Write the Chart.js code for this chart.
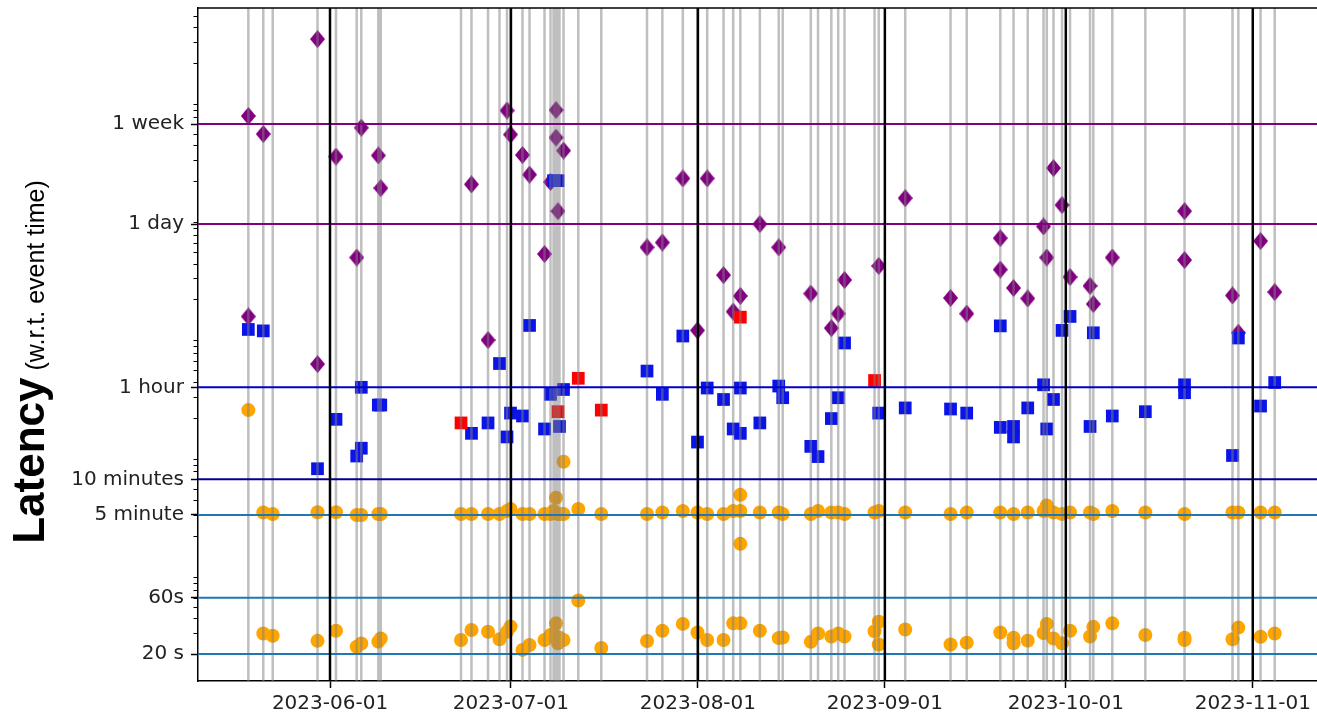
<!DOCTYPE html>
<html><head><meta charset="utf-8">
<script src="https://cdn.jsdelivr.net/npm/chart.js@4/dist/chart.umd.min.js"></script>
<style>html,body{margin:0;padding:0;background:#fff;} #wrap{position:relative;width:1317px;height:713px;background:#fff;}</style>
</head><body><div id="wrap"><canvas id="c" width="1317" height="713"></canvas></div>
<script>
// ---------- data (latency in seconds, event time UTC) ----------
const eventTimes = [
 '2023-05-18 11:00','2023-05-20 22:30','2023-05-22 12:00','2023-05-29 22:15','2023-06-01 23:50',
 '2023-06-05 10:15','2023-06-06 04:30','2023-06-09 00:15','2023-06-09 10:00','2023-06-22 17:20',
 '2023-06-24 11:00','2023-06-27 04:50','2023-06-29 02:30','2023-06-30 08:20','2023-06-30 22:20',
 '2023-07-02 22:00','2023-07-04 02:00','2023-07-06 13:40','2023-07-07 13:30','2023-07-08 01:30',
 '2023-07-08 11:20','2023-07-08 19:15','2023-07-09 01:10','2023-07-09 17:15','2023-07-12 04:00',
 '2023-07-15 23:30','2023-07-23 13:30','2023-07-26 02:30','2023-07-29 12:00','2023-07-31 22:20',
 '2023-08-02 13:00','2023-08-05 06:00','2023-08-06 20:25','2023-08-08 00:45','2023-08-11 06:30',
 '2023-08-14 09:40','2023-08-15 01:30','2023-08-19 17:15','2023-08-20 22:00','2023-08-23 03:00',
 '2023-08-24 06:15','2023-08-25 07:30','2023-08-30 07:00','2023-08-30 23:35','2023-09-04 09:00',
 '2023-09-11 21:20','2023-09-14 13:40','2023-09-20 03:20','2023-09-22 08:00','2023-09-24 16:30',
 '2023-09-27 07:25','2023-09-27 20:10','2023-09-28 23:00','2023-09-30 09:00','2023-10-01 16:50',
 '2023-10-05 00:30','2023-10-05 13:30','2023-10-08 17:00','2023-10-14 04:30','2023-10-20 16:30',
 '2023-10-28 15:20','2023-10-29 14:40','2023-11-02 07:00','2023-11-04 15:20'
];
const diamonds = [
 ['2023-05-18 11:00',708000],['2023-05-18 11:00',14300],['2023-05-20 22:30',498000],
 ['2023-05-29 22:15',3160000],['2023-05-29 22:15',5660],['2023-06-01 23:50',321000],
 ['2023-06-05 10:15',45000],['2023-06-06 04:30',563000],['2023-06-09 00:15',328000],
 ['2023-06-09 10:00',174000],['2023-06-24 11:00',187000],['2023-06-27 04:50',9040],
 ['2023-06-30 08:20',787000],['2023-06-30 22:20',493000],['2023-07-02 22:00',331000],
 ['2023-07-04 02:00',226000],['2023-07-06 13:40',48200],['2023-07-07 13:30',196000],
 ['2023-07-08 11:20',795000],['2023-07-08 11:20',465000],['2023-07-08 19:15',111000],
 ['2023-07-09 17:15',361000],['2023-07-23 13:30',54900],['2023-07-26 02:30',60300],
 ['2023-07-29 12:00',210000],['2023-07-31 22:20',10900],['2023-08-02 13:00',210000],
 ['2023-08-05 06:00',32000],['2023-08-06 20:25',15700],['2023-08-08 00:45',21300],
 ['2023-08-11 06:30',86400],['2023-08-14 09:40',54900],['2023-08-19 17:15',22300],
 ['2023-08-23 03:00',11400],['2023-08-24 06:15',15100],['2023-08-25 07:30',29100],
 ['2023-08-30 23:35',38200],['2023-09-04 09:00',143000],['2023-09-11 21:20',20500],
 ['2023-09-14 13:40',15100],['2023-09-20 03:20',65600],['2023-09-20 03:20',35600],
 ['2023-09-22 08:00',24900],['2023-09-24 16:30',20300],['2023-09-27 07:25',82400],
 ['2023-09-27 20:10',45000],['2023-09-28 23:00',257000],['2023-09-30 09:00',125000],
 ['2023-10-01 16:50',30800],['2023-10-05 00:30',25900],['2023-10-05 13:30',18200],
 ['2023-10-08 17:00',45000],['2023-10-20 16:30',111000],['2023-10-20 16:30',42900],
 ['2023-10-28 15:20',21500],['2023-10-29 14:40',10400],['2023-11-02 07:00',62100],
 ['2023-11-04 15:20',23000]
];
const blueSquares = [
 ['2023-05-18 11:00',11100],['2023-05-20 22:30',10800],['2023-05-29 22:15',738],
 ['2023-06-01 23:50',1930],['2023-06-05 10:15',945],['2023-06-06 04:30',3600],
 ['2023-06-06 04:30',1100],['2023-06-09 00:15',2550],['2023-06-09 10:00',2550],
 ['2023-06-24 11:00',1470],['2023-06-27 04:50',1800],['2023-06-29 02:30',5720],
 ['2023-06-30 08:20',1370],['2023-06-30 22:20',2180],['2023-07-02 22:00',2060],
 ['2023-07-04 02:00',12000],['2023-07-06 13:40',1600],['2023-07-07 13:30',3140],
 ['2023-07-08 01:30',201000],['2023-07-08 19:15',201000],['2023-07-09 01:10',1680],
 ['2023-07-09 17:15',3450],['2023-07-23 13:30',4940],['2023-07-26 02:30',3140],
 ['2023-07-29 12:00',9770],['2023-07-31 22:20',1240],['2023-08-02 13:00',3550],
 ['2023-08-05 06:00',2840],['2023-08-06 20:25',1600],['2023-08-08 00:45',1470],
 ['2023-08-08 00:45',3550],['2023-08-11 06:30',1800],['2023-08-14 09:40',3690],
 ['2023-08-15 01:30',2940],['2023-08-19 17:15',1140],['2023-08-20 22:00',935],
 ['2023-08-23 03:00',1960],['2023-08-24 06:15',2940],['2023-08-25 07:30',8530],
 ['2023-08-30 23:35',2180],['2023-09-04 09:00',2410],['2023-09-11 21:20',2360],
 ['2023-09-14 13:40',2180],['2023-09-20 03:20',11900],['2023-09-20 03:20',1650],
 ['2023-09-22 08:00',1680],['2023-09-22 08:00',1370],['2023-09-24 16:30',2410],
 ['2023-09-27 07:25',3780],['2023-09-27 20:10',1600],['2023-09-28 23:00',2840],
 ['2023-09-30 09:00',10900],['2023-10-01 16:50',14300],['2023-10-05 00:30',1680],
 ['2023-10-05 13:30',10400],['2023-10-08 17:00',2060],['2023-10-14 04:30',2240],
 ['2023-10-20 16:30',3780],['2023-10-20 16:30',3240],['2023-10-28 15:20',955],
 ['2023-10-29 14:40',9400],['2023-11-02 07:00',2500],['2023-11-04 15:20',3950]
];
const redSquares = [
 ['2023-06-22 17:20',1800],['2023-07-08 19:15',2240],['2023-07-12 04:00',4290],
 ['2023-07-15 23:30',2310],['2023-08-08 00:45',14100],['2023-08-30 07:00',4110]
];
const orangeCircles = [
 ['2023-05-18 11:00',2310],
 ['2023-05-20 22:30',315],['2023-05-20 22:30',29.9],['2023-05-22 12:00',306],['2023-05-22 12:00',28.6],
 ['2023-05-29 22:15',316],['2023-05-29 22:15',25.9],['2023-06-01 23:50',316],['2023-06-01 23:50',31.5],
 ['2023-06-05 10:15',300],['2023-06-05 10:15',23.1],['2023-06-06 04:30',300],['2023-06-06 04:30',24.6],
 ['2023-06-09 00:15',306],['2023-06-09 00:15',25.5],['2023-06-09 10:00',306],['2023-06-09 10:00',27.1],
 ['2023-06-22 17:20',306],['2023-06-22 17:20',26.3],['2023-06-24 11:00',306],['2023-06-24 11:00',32.0],
 ['2023-06-27 04:50',306],['2023-06-27 04:50',30.9],['2023-06-29 02:30',306],['2023-06-29 02:30',26.7],
 ['2023-06-30 08:20',324],['2023-06-30 08:20',30.9],['2023-06-30 22:20',337],['2023-06-30 22:20',34.2],
 ['2023-07-02 22:00',306],['2023-07-02 22:00',21.7],['2023-07-04 02:00',306],['2023-07-04 02:00',23.9],
 ['2023-07-06 13:40',306],['2023-07-06 13:40',26.3],['2023-07-07 13:30',306],['2023-07-07 13:30',29.0],
 ['2023-07-08 01:30',324],['2023-07-08 01:30',29.5],['2023-07-08 11:20',420],['2023-07-08 11:20',36.4],
 ['2023-07-08 19:15',306],['2023-07-08 19:15',24.7],['2023-07-09 01:10',306],['2023-07-09 01:10',27.5],
 ['2023-07-09 17:15',846],['2023-07-09 17:15',306],['2023-07-09 17:15',26.3],
 ['2023-07-12 04:00',337],['2023-07-12 04:00',56.8],['2023-07-15 23:30',306],['2023-07-15 23:30',22.5],
 ['2023-07-23 13:30',306],['2023-07-23 13:30',25.8],['2023-07-26 02:30',315],['2023-07-26 02:30',31.5],
 ['2023-07-29 12:00',324],['2023-07-29 12:00',36.0],['2023-07-31 22:20',315],['2023-07-31 22:20',30.5],
 ['2023-08-02 13:00',306],['2023-08-02 13:00',26.3],['2023-08-05 06:00',306],['2023-08-05 06:00',26.3],
 ['2023-08-06 20:25',324],['2023-08-06 20:25',36.4],
 ['2023-08-08 00:45',444],['2023-08-08 00:45',324],['2023-08-08 00:45',171],['2023-08-08 00:45',36.4],
 ['2023-08-11 06:30',315],['2023-08-11 06:30',31.5],['2023-08-14 09:40',315],['2023-08-14 09:40',27.3],
 ['2023-08-15 01:30',306],['2023-08-15 01:30',27.6],['2023-08-19 17:15',306],['2023-08-19 17:15',25.4],
 ['2023-08-20 22:00',324],['2023-08-20 22:00',29.9],['2023-08-23 03:00',315],['2023-08-23 03:00',28.2],
 ['2023-08-24 06:15',315],['2023-08-24 06:15',29.9],['2023-08-25 07:30',306],['2023-08-25 07:30',28.2],
 ['2023-08-30 07:00',315],['2023-08-30 07:00',31.2],
 ['2023-08-30 23:35',324],['2023-08-30 23:35',37.6],['2023-08-30 23:35',24.1],
 ['2023-09-04 09:00',315],['2023-09-04 09:00',32.3],['2023-09-11 21:20',306],['2023-09-11 21:20',24.1],
 ['2023-09-14 13:40',315],['2023-09-14 13:40',25.0],['2023-09-20 03:20',315],['2023-09-20 03:20',30.5],
 ['2023-09-22 08:00',306],['2023-09-22 08:00',27.5],['2023-09-22 08:00',24.7],
 ['2023-09-24 16:30',315],['2023-09-24 16:30',26.0],['2023-09-27 07:25',324],['2023-09-27 07:25',30.2],
 ['2023-09-27 20:10',361],['2023-09-27 20:10',36.0],['2023-09-28 23:00',315],['2023-09-28 23:00',27.1],
 ['2023-09-30 09:00',306],['2023-09-30 09:00',24.7],['2023-10-01 16:50',315],['2023-10-01 16:50',31.5],
 ['2023-10-05 00:30',315],['2023-10-05 00:30',28.2],['2023-10-05 13:30',306],['2023-10-05 13:30',34.0],
 ['2023-10-08 17:00',324],['2023-10-08 17:00',36.4],['2023-10-14 04:30',315],['2023-10-14 04:30',29.0],
 ['2023-10-20 16:30',306],['2023-10-20 16:30',27.5],['2023-10-20 16:30',26.3],
 ['2023-10-28 15:20',315],['2023-10-28 15:20',26.7],['2023-10-29 14:40',315],['2023-10-29 14:40',33.5],
 ['2023-11-02 07:00',315],['2023-11-02 07:00',28.0],['2023-11-04 15:20',315],['2023-11-04 15:20',29.9]
];
const monthTicks = ['2023-06-01','2023-07-01','2023-08-01','2023-09-01','2023-10-01','2023-11-01'];
const yTickValues = [20, 60, 300, 600, 3600, 86400, 604800];
const yTickLabels = ['20 s', '60s', '5 minute', '10 minutes', '1 hour', '1 day', '1 week'];
const refLineColors = ['#1f77b4', '#1f77b4', '#1f77b4', '#00008b', '#0000cd', '#800080', '#800080'];
const X_RANGE = ['2023-05-10 02:43', '2023-11-11 15:36'];
const Y_RANGE = [11.85, 5.79e6];

// ---------- helpers ----------
function toMs(s) {
  const p = s.split(' ');
  return Date.parse(p[0] + 'T' + (p[1] || '00:00') + ':00Z');
}
const pts = arr => arr.map(([t, v]) => ({ x: toMs(t), y: v }));
function diamondImg(w, h, color) {
  const c = document.createElement('canvas'); c.width = w; c.height = h;
  const g = c.getContext('2d'); g.fillStyle = color;
  g.beginPath(); g.moveTo(w / 2, 0); g.lineTo(w, h / 2); g.lineTo(w / 2, h); g.lineTo(0, h / 2); g.closePath(); g.fill();
  return c;
}
const XMIN = toMs(X_RANGE[0]), XMAX = toMs(X_RANGE[1]);
const YMIN = Y_RANGE[0], YMAX = Y_RANGE[1];

const vLines = [];
eventTimes.forEach(t => { const x = toMs(t); vLines.push({ x, y: YMIN }, { x, y: YMAX }, { x, y: null }); });
const mLines = [];
monthTicks.forEach(t => { const x = toMs(t); mLines.push({ x, y: YMIN }, { x, y: YMAX }, { x, y: null }); });

const lineBase = { type: 'line', pointRadius: 0, fill: false, tension: 0, spanGaps: false };
const datasets = [];
yTickValues.forEach((v, i) => datasets.push(Object.assign({}, lineBase, {
  data: [{ x: XMIN, y: v }, { x: XMAX, y: v }], borderColor: refLineColors[i], borderWidth: 2, order: 1 })));
datasets.push(Object.assign({}, lineBase, { data: mLines, borderColor: '#000', borderWidth: 2.5, order: 0 }));
datasets.push(Object.assign({}, lineBase, { data: vLines, borderColor: 'rgba(128,128,128,0.5)', borderWidth: 2.5, order: 2 }));
datasets.push({ type: 'scatter', data: pts(redSquares), pointStyle: 'rect', pointRadius: 9, backgroundColor: '#ff0000', borderWidth: 0, order: 3 });
datasets.push({ type: 'scatter', data: pts(blueSquares), pointStyle: 'rect', pointRadius: 9, backgroundColor: '#0a14e8', borderWidth: 0, order: 4 });
datasets.push({ type: 'scatter', data: pts(diamonds), pointStyle: diamondImg(15, 18, '#800080'), pointRadius: 8, borderWidth: 0, order: 5 });
datasets.push({ type: 'scatter', data: pts(orangeCircles), pointStyle: 'circle', pointRadius: 7, backgroundColor: '#ffa500', borderWidth: 0, order: 6 });

const decor = {
  id: 'decor',
  afterDraw(chart) {
    const ctx = chart.ctx, ys = chart.scales.y, a = chart.chartArea;
    ctx.save();
    ctx.strokeStyle = '#000';
    ctx.lineWidth = 1;
    for (let e = 1; e <= 6; e++) for (let m = 2; m <= 9; m++) {
      const v = m * Math.pow(10, e);
      if (v < ys.min || v > ys.max) continue;
      const p = Math.round(ys.getPixelForValue(v)) + 0.5;
      ctx.beginPath(); ctx.moveTo(a.left - 4.5, p); ctx.lineTo(a.left, p); ctx.stroke();
    }
    ctx.lineWidth = 1.5;
    ctx.beginPath(); ctx.moveTo(a.left, a.top); ctx.lineTo(a.right, a.top); ctx.stroke();
    // y axis title
    ctx.translate(44, 362); ctx.rotate(-Math.PI / 2);
    const f1 = 'bold 44px "Liberation Sans"', f2 = '25px "Liberation Sans"';
    const t1 = 'Latency', t2 = ' (w.r.t. event time)';
    ctx.font = f1; const w1 = ctx.measureText(t1).width;
    ctx.font = f2; const w2 = ctx.measureText(t2).width;
    const x0 = -(w1 + w2) / 2;
    ctx.fillStyle = '#000'; ctx.textBaseline = 'alphabetic'; ctx.textAlign = 'left';
    ctx.font = f1; ctx.fillText(t1, x0, 0);
    ctx.font = f2; ctx.fillText(t2, x0 + w1, 0);
    ctx.restore();
  }
};

new Chart(document.getElementById('c'), {
  type: 'scatter',
  data: { datasets },
  options: {
    responsive: false, animation: false, devicePixelRatio: 1, events: [],
    layout: { autoPadding: false, padding: { top: 8, left: 0, right: 0, bottom: 0 } },
    plugins: { legend: { display: false }, tooltip: { enabled: false } },
    scales: {
      x: {
        type: 'linear', min: XMIN, max: XMAX,
        afterBuildTicks: s => { s.ticks = monthTicks.map(t => ({ value: toMs(t) })); },
        ticks: { callback: v => new Date(v).toISOString().slice(0, 10), autoSkip: false, maxRotation: 0,
                 font: { family: 'DejaVu Sans', size: 20 }, color: '#222', padding: 4 },
        grid: { drawOnChartArea: false, drawTicks: true, tickLength: 7, tickColor: '#000', tickWidth: 1.5 },
        border: { display: true, color: '#000', width: 1.5 },
        afterFit: s => { s.height = 32; s.paddingLeft = 0; s.paddingRight = 0; }
      },
      y: {
        type: 'logarithmic', min: YMIN, max: YMAX,
        afterBuildTicks: s => { s.ticks = yTickValues.map(v => ({ value: v })); },
        ticks: { callback: (v, i) => yTickLabels[i], autoSkip: false,
                 font: { family: 'DejaVu Sans', size: 20 }, color: '#222', padding: 7 },
        grid: { drawOnChartArea: false, drawTicks: true, tickLength: 7, tickColor: '#000', tickWidth: 1.5 },
        border: { display: true, color: '#000', width: 1.5 },
        afterFit: s => { s.width = 198; s.paddingTop = 0; s.paddingBottom = 0; }
      }
    }
  },
  plugins: [decor]
});
</script>
</body></html>
